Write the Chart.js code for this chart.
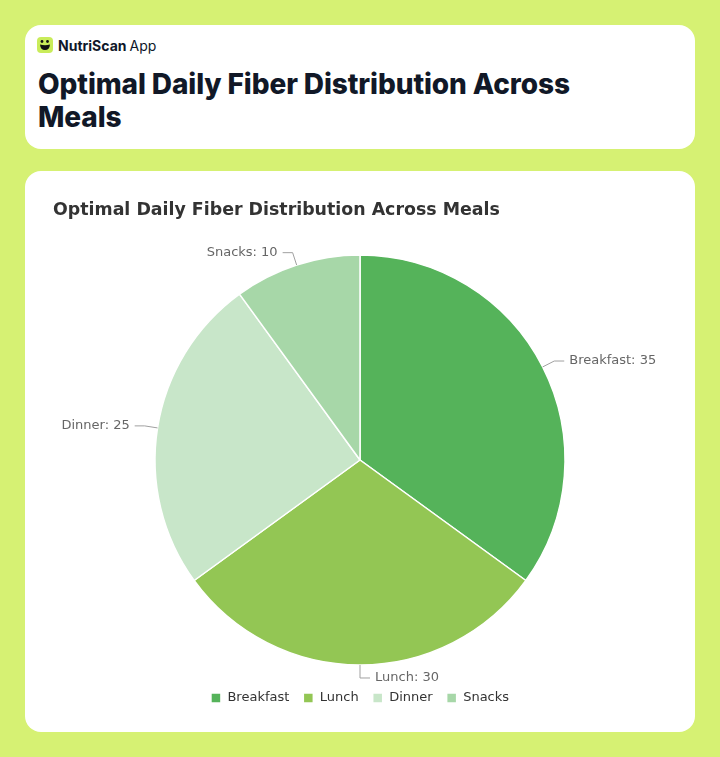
<!DOCTYPE html>
<html>
<head>
<meta charset="utf-8">
<script src="https://cdn.jsdelivr.net/npm/chart.js@4.4.1/dist/chart.umd.min.js"></script>
<style>
html, body { margin: 0; padding: 0; }
body {
  width: 720px; height: 757px; box-sizing: border-box;
  padding: 25px; background: #d6f173;
  font-family: Inter, "Noto Sans", sans-serif;
}
.card { background: #fff; border-radius: 16px; }
.head { height: 124px; box-sizing: border-box; padding: 12px 12px 0 12px; }
.brand { display: flex; align-items: center; height: 16px; font-size: 14px; color: #0f172a; }
.brand svg { margin-right: 5px; }
.brand b { font-weight: 700; margin-right: 3px; }
h1 {
  margin: 15px 0 0 1px; font-size: 28px; line-height: 33px;
  font-weight: 800; color: #111827; max-width: 560px; letter-spacing: -0.1px;
}
.chartcard { margin-top: 22px; height: 561px; position: relative; }
</style>
</head>
<body>
<div class="card head">
  <div class="brand">
    <svg width="16" height="16" viewBox="0 0 16 16">
      <rect x="0" y="0" width="16" height="16" rx="4" fill="#c9ec5a"/>
      <circle cx="5" cy="4.5" r="1.4" fill="#111"/>
      <circle cx="10.5" cy="4.5" r="1.4" fill="#111"/>
      <path d="M3 7.5 Q8 9 13 7.5 Q12.5 13 8 13 Q3.5 13 3 7.5 Z" fill="#111"/>
    </svg>
    <b>NutriScan</b><span>App</span>
  </div>
  <h1>Optimal Daily Fiber Distribution Across Meals</h1>
</div>
<div class="card chartcard">
  <canvas id="fiberChart"></canvas>
</div>
<script>
const meals = ['Breakfast', 'Lunch', 'Dinner', 'Snacks'];
const fiberShare = [35, 30, 25, 10];
const sliceColors = ['#55b35a', '#93c654', '#c8e6c9', '#a7d7a8'];
const chartTitle = 'Optimal Daily Fiber Distribution Across Meals';

Chart.defaults.font.family = '"DejaVu Sans", sans-serif';

// labels outside the pie with a short leader line
const outsideLabels = {
  id: 'outsideLabels',
  afterDatasetsDraw(chart) {
    const ctx = chart.ctx;
    const meta = chart.getDatasetMeta(0);
    ctx.save();
    ctx.font = '13px "DejaVu Sans", sans-serif';
    ctx.textBaseline = 'middle';
    meta.data.forEach((arc, i) => {
      const p = arc.getProps(['x', 'y', 'startAngle', 'endAngle', 'outerRadius'], true);
      const mid = (p.startAngle + p.endAngle) / 2;
      const cos = Math.cos(mid), sin = Math.sin(mid);
      const x1 = p.x + p.outerRadius * cos, y1 = p.y + p.outerRadius * sin;
      const x2 = p.x + (p.outerRadius + 13) * cos, y2 = p.y + (p.outerRadius + 13) * sin;
      const right = cos >= -1e-6;
      const x3 = x2 + (right ? 10 : -10);
      ctx.strokeStyle = '#a0a0a0';
      ctx.lineWidth = 1;
      ctx.beginPath();
      ctx.moveTo(x1, y1);
      ctx.lineTo(x2, y2);
      ctx.lineTo(x3, y2);
      ctx.stroke();
      ctx.fillStyle = '#666666';
      ctx.textAlign = right ? 'left' : 'right';
      ctx.fillText(meals[i] + ': ' + fiberShare[i], x3 + (right ? 5 : -5), y2);
    });
    ctx.restore();
  }
};

const ctx = document.getElementById('fiberChart').getContext('2d');
const chart = new Chart(ctx, {
  type: 'pie',
  data: {
    labels: meals,
    datasets: [{
      data: fiberShare,
      backgroundColor: sliceColors,
      borderColor: '#ffffff',
      borderWidth: 1.5,
      radius: 205
    }]
  },
  options: {
    responsive: true,
    maintainAspectRatio: false,
    animation: false,
    layout: { padding: { left: 28, right: 28, top: 10, bottom: 17.5 } },
    plugins: {
      title: {
        display: true,
        text: chartTitle,
        align: 'start',
        color: '#333333',
        font: { size: 17.4, weight: 'bold' },
        padding: { top: 18.8, bottom: 21.8 }
      },
      legend: {
        position: 'bottom',
        labels: {
          boxWidth: 10,
          boxHeight: 10,
          padding: 14,
          color: '#333333',
          font: { size: 13 }
        }
      },
      tooltip: { enabled: false }
    }
  },
  plugins: [outsideLabels]
});
</script>
</body>
</html>
